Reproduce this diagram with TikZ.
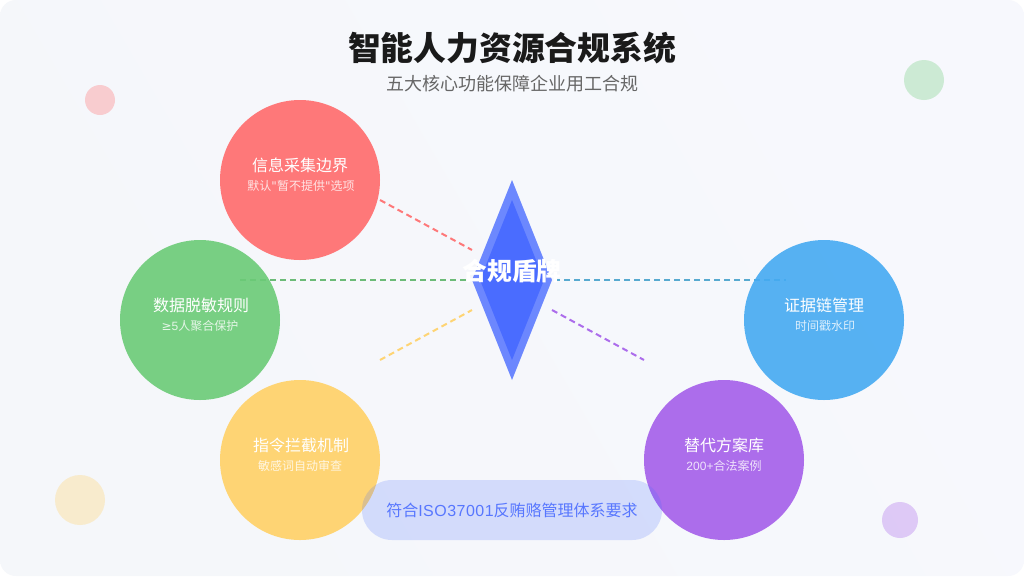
\documentclass[tikz,border=0pt]{standalone}
\usepackage{fontspec}
\setmainfont{Noto Sans CJK SC}
\newfontfamily\latinfont{DejaVu Sans}
\newfontfamily\arialfont{Liberation Sans}
\usepackage{xcolor}
\usetikzlibrary{calc}
\definecolor{bgA}{HTML}{F5F7FA}
\definecolor{bgB}{HTML}{F7F8FD}
\definecolor{ink}{HTML}{1A1A1A}
\definecolor{muted}{HTML}{666666}
\definecolor{red}{HTML}{FF6B6B}
\definecolor{green}{HTML}{6BCB77}
\definecolor{yellow}{HTML}{FFD166}
\definecolor{blue}{HTML}{45AAF2}
\definecolor{purple}{HTML}{A55EEA}
\definecolor{shield}{HTML}{4A6CFF}
\definecolor{chainline}{HTML}{46A2CC}
\definecolor{maskline}{HTML}{5DB56A}
\tikzset{
  module/.style={circle, minimum size=120pt, inner sep=0pt, fill opacity=0.9},
  dot/.style={circle, inner sep=0pt, fill opacity=0.3},
  link/.style={line width=1.5pt, opacity=0.9, dash pattern=on 4.5pt off 3pt},
  headlab/.style={text=white, font=\fontsize{12}{14}\selectfont},
  sublab/.style={text=white, text opacity=0.8, font=\fontsize{9}{11}\selectfont},
}

\begin{document}
\begin{tikzpicture}[x=0.75pt,y=-0.75pt]
  \useasboundingbox (0,0) rectangle (1024,576);
  \fill[white] (0,0) rectangle (1024,576);
  \shade[left color=bgA,right color=bgB,shading angle=120,rounded corners=12pt] (0,0) rectangle (1024,576);

  % corner dots
  \node[dot,fill=red,minimum size=22.5pt] (dotA) at (100,100) {};
  \node[dot,fill=green,minimum size=30pt] (dotB) at (924,80) {};
  \node[dot,fill=yellow,minimum size=37.5pt] (dotC) at (80,500) {};
  \node[dot,fill=purple,minimum size=27pt] (dotD) at (900,520) {};

  \node[text=ink,font=\fontsize{24.6}{28}\selectfont\bfseries] (title) at (512,48) {智能人力资源合规系统};
  \node[text=muted,font=\fontsize{13.5}{16}\selectfont] (subtitle) at (512,84) {五大核心功能保障企业用工合规};

  \fill[shield,fill opacity=0.8] (512,180) -- (552,280) -- (512,380) -- (472,280) -- cycle;
  \fill[shield] (512,200) -- (544,280) -- (512,360) -- (480,280) -- cycle;

  \coordinate (infoEnd) at (380,200);
  \coordinate (maskEnd) at (240,280);
  \coordinate (cmdEnd) at (380,360);
  \coordinate (chainEnd) at (786,280);
  \coordinate (altEnd) at (644,360);
  \coordinate (shieldA) at (472,250);
  \coordinate (shieldB) at (482,280);
  \coordinate (shieldC) at (472,310);
  \coordinate (shieldD) at (554,280);
  \coordinate (shieldE) at (552,310);

  \draw[link,red] (infoEnd) -- (shieldA);
  \draw[link,maskline] (maskEnd) -- (shieldB);
  \draw[link,yellow] (cmdEnd) -- (shieldC);
  \draw[link,chainline] (shieldD) -- (chainEnd);
  \draw[link,purple] (shieldE) -- (altEnd);

  \node[module,fill=red] (info) at (300,180) {};
  \node[module,fill=green] (mask) at (200,320) {};
  \node[module,fill=yellow] (cmd) at (300,460) {};
  \node[module,fill=blue] (chain) at (824,320) {};
  \node[module,fill=purple] (alt) at (724,460) {};

  \node[headlab] (infoHead) at (300,165) {信息采集边界};
  \node[sublab] (infoSub) at (301,186) {默认{\latinfont "}暂不提供{\latinfont "}选项};
  \node[headlab] (maskHead) at (201,305) {数据脱敏规则};
  \node[sublab] (maskSub) at (200,326) {{\latinfont ≥}{\arialfont 5}人聚合保护};
  \node[headlab] (cmdHead) at (301,445) {指令拦截机制};
  \node[sublab] (cmdSub) at (300,466) {敏感词自动审查};
  \node[headlab] (chainHead) at (824,305) {证据链管理};
  \node[sublab] (chainSub) at (825,326) {时间戳水印};
  \node[headlab] (altHead) at (724,445) {替代方案库};
  \node[sublab] (altSub) at (724,466) {{\arialfont 200+}合法案例};

  \node[text=white,font=\fontsize{18.6}{22}\selectfont\bfseries] (badge) at (512,271) {合规盾牌};

  \fill[shield,fill opacity=0.2,rounded corners=22.5pt] (362,480) rectangle (662,540);
  \node[text=shield,text opacity=0.9,font=\fontsize{12}{14}\selectfont] (norm) at (512,510) {符合{\arialfont\addfontfeature{LetterSpace=3}ISO37001}反贿赂管理体系要求};
\end{tikzpicture}
\end{document}
